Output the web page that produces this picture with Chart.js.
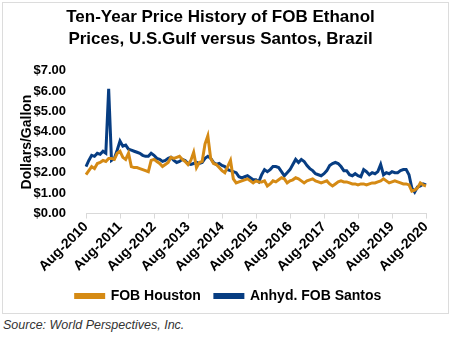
<!DOCTYPE html>
<html lang="en">
<head>
<meta charset="UTF-8" />
<title>Ten-Year Price History of FOB Ethanol</title>
<script src="https://cdn.jsdelivr.net/npm/chart.js"></script>
<style>
  body {
    margin: 0;
    background: #fff;
    font-family: Arial, "Liberation Sans", sans-serif;
  }
  .frame {
    position: absolute;
    left: 2px;
    top: 2px;
    width: 445px;
    height: 310px;
    border: 1px solid #dcdcdc;
  }
  .source {
    position: absolute;
    left: 3px;
    top: 318px;
    font-size: 12.5px;
    font-style: italic;
    color: #333;
  }
</style>
</head>
<body>

<div class="frame"><canvas id="ethanolChart" width="445" height="310"></canvas></div>
<div class="source">Source: World Perspectives, Inc.</div>

<script>
  // monthly prices, Aug-2010 .. Aug-2020, $/gallon
  const houston = [
    1.90, 2.10, 2.30, 2.20, 2.45, 2.50, 2.60, 2.55, 2.70, 2.70, 2.65, 2.95,
    3.05, 2.75, 2.65, 2.95, 2.30, 2.25, 2.25, 2.20, 2.15, 2.10, 2.05, 2.60,
    2.65, 2.55, 2.45, 2.30, 2.40, 2.50, 2.75, 2.70, 2.75, 2.80, 2.65, 2.55,
    2.40, 2.60, 3.00, 2.25, 2.50, 2.55, 3.40, 3.80, 2.70, 2.45, 2.40, 2.25,
    2.10, 2.00, 2.30, 2.60, 1.70, 1.50, 1.55, 1.60, 1.65, 1.70, 1.60, 1.50,
    1.60, 1.55, 1.55, 1.60, 1.35, 1.45, 1.60, 1.55, 1.65, 1.75, 1.70, 1.50,
    1.60, 1.65, 1.75, 1.70, 1.60, 1.50, 1.60, 1.65, 1.70, 1.60, 1.55, 1.50,
    1.55, 1.60, 1.45, 1.35, 1.45, 1.55, 1.60, 1.55, 1.55, 1.50, 1.45, 1.45,
    1.40, 1.45, 1.45, 1.40, 1.45, 1.50, 1.50, 1.55, 1.60, 1.70, 1.60, 1.50,
    1.55, 1.60, 1.55, 1.50, 1.45, 1.45, 1.40, 1.10, 1.15, 1.25, 1.50, 1.40,
    1.35
  ];
  const santos = [
    2.30, 2.60, 2.85, 2.80, 2.95, 2.90, 3.05, 2.95, 6.10, 2.60, 2.70, 3.10,
    3.55, 3.30, 3.35, 3.15, 3.10, 3.05, 3.00, 2.95, 2.85, 2.80, 2.80, 2.95,
    2.85, 2.70, 2.65, 2.55, 2.60, 2.70, 2.75, 2.60, 2.50, 2.55, 2.65, 2.60,
    2.45, 2.40, 2.45, 2.50, 2.45, 2.50, 2.70, 2.80, 2.70, 2.50, 2.40, 2.45,
    2.35, 2.30, 2.15, 2.10, 2.05, 2.00, 1.80, 1.75, 1.80, 1.85, 1.75, 1.65,
    1.65, 1.55, 1.90, 2.15, 2.05, 2.15, 2.30, 2.30, 2.25, 2.05, 1.85, 2.00,
    2.15, 2.40, 2.65, 2.50, 2.65, 2.55, 2.35, 2.20, 2.10, 1.95, 1.90, 1.85,
    1.95, 2.10, 2.35, 2.45, 2.50, 2.45, 2.30, 2.10, 2.10, 1.90, 1.85, 1.95,
    1.85, 1.80, 2.15, 2.05, 1.90, 2.00, 1.95, 2.05, 2.40, 1.90, 2.00, 1.95,
    2.05, 2.00, 2.00, 2.10, 2.15, 2.15, 1.90, 1.25, 1.05, 1.30, 1.35, 1.45,
    1.40
  ];
  const monthNames = ['Aug', 'Sep', 'Oct', 'Nov', 'Dec', 'Jan', 'Feb', 'Mar', 'Apr', 'May', 'Jun', 'Jul'];
  const startYear = 2010;

  const labels = houston.map((_, i) => {
    const yr = startYear + Math.floor((i + 7) / 12);
    return monthNames[i % 12] + '-' + yr;
  });

  const orange = '#d58a14';
  const navy = '#073d82';
  const font = 'Arial, "Liberation Sans", sans-serif';

  // nudge the legend so it sits centred under the whole frame
  const legendShift = {
    id: 'legendShift',
    afterLayout(chart) {
      chart.legend.left += 8;
      chart.legend.right += 8;
    }
  };

  const ctx = document.getElementById('ethanolChart').getContext('2d');

  new Chart(ctx, {
    type: 'line',
    data: {
      labels: labels,
      datasets: [
        {
          label: 'FOB Houston',
          data: houston,
          borderColor: orange,
          backgroundColor: orange,
          borderWidth: 3,
          pointRadius: 0,
          tension: 0,
          fill: false
        },
        {
          label: 'Anhyd. FOB Santos',
          data: santos,
          borderColor: navy,
          backgroundColor: navy,
          borderWidth: 3,
          pointRadius: 0,
          tension: 0,
          fill: false
        }
      ]
    },
    plugins: [legendShift],
    options: {
      responsive: false,
      animation: false,
      layout: { padding: { left: 12, right: 22, top: 4, bottom: 0 } },
      plugins: {
        title: {
          display: true,
          text: ['Ten-Year Price History of FOB Ethanol', 'Prices, U.S.Gulf versus Santos, Brazil'],
          color: '#000',
          font: { family: font, size: 17, weight: 'bold', lineHeight: 1.25 },
          padding: { top: 0, bottom: 21 }
        },
        legend: {
          position: 'bottom',
          labels: {
            color: '#000',
            font: { family: font, size: 14, weight: 'bold' },
            boxWidth: 28,
            boxHeight: 3,
            padding: 14
          }
        },
        tooltip: { enabled: false }
      },
      scales: {
        x: {
          grid: {
            drawOnChartArea: false,
            color: '#d9d9d9',
            tickLength: 5
          },
          border: { color: '#d9d9d9' },
          ticks: {
            autoSkip: false,
            maxRotation: 45,
            minRotation: 45,
            padding: 0,
            color: '#000',
            font: { family: font, size: 14, weight: 'bold' },
            callback: function(val, i) {
              return i % 12 === 0 ? this.getLabelForValue(val) : null;
            }
          }
        },
        y: {
          min: 0,
          max: 7,
          afterFit: scale => { scale.width = 71; },
          grid: { display: false },
          border: { display: false },
          title: {
            display: true,
            text: 'Dollars/Gallon',
            color: '#000',
            font: { family: font, size: 14, weight: 'bold' }
          },
          ticks: {
            stepSize: 1,
            padding: 12,
            color: '#000',
            font: { family: font, size: 13, weight: 'bold' },
            callback: v => '$' + v.toFixed(2)
          }
        }
      }
    }
  });
</script>

</body>
</html>
